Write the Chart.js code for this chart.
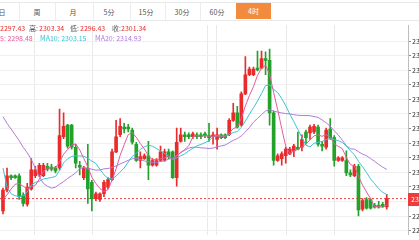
<!DOCTYPE html>
<html><head><meta charset="utf-8">
<script src="https://cdn.jsdelivr.net/npm/chart.js@4/dist/chart.umd.min.js"></script>
<style>
html,body{margin:0;padding:0;width:419px;height:240px;overflow:hidden;background:#fff;font-family:"Noto Sans CJK SC","Noto Sans",sans-serif;}
.hline{position:absolute;left:0;width:419px;height:1px;background:#e8e8e8;}
.sep{position:absolute;top:2px;width:1px;height:18px;background:#ececec;}
.tab{position:absolute;top:7px;font-size:7px;line-height:10px;color:#555;transform:translateX(-50%);white-space:nowrap;}
#active{position:absolute;left:236px;top:3px;width:35px;height:16px;background:#f38b3e;color:#fff;font-size:7px;line-height:16px;text-align:center;}
.lg{position:absolute;font-size:7px;line-height:9px;white-space:nowrap;}
#wrap{position:absolute;left:0;top:20px;width:460px;height:220px;}
</style></head>
<body>
<div class="hline" style="top:2px"></div>
<div class="hline" style="top:20px"></div>
<div class="sep" style="left:19px"></div>
<div class="sep" style="left:55px"></div>
<div class="sep" style="left:93px"></div>
<div class="sep" style="left:130px"></div>
<div class="sep" style="left:165px"></div>
<div class="sep" style="left:200px"></div>
<div id="tabbar"></div>
<div id="active">4时</div>
<div id="wrap"><canvas id="c" width="460" height="220"></canvas></div>
<div id="legend"></div>
<script>
// ---- data ----
const tabs = ['日','周','月','5分','15分','30分','60分'];
const opens = [2295.6,2305.3,2312.0,2312.0,2312.0,2302.7,2298.7,2305.8,2312.0,2312.4,
 2312.0,2316.4,2316.0,2315.6,2315.6,2330.2,2335.6,2335.6,2325.3,2316.9,
 2311.1,2315.6,2308.9,2301.3,2300.9,2303.6,2306.7,2310.2,2323.1,2331.1,
 2334.7,2334.7,2333.3,2326.7,2319.1,2320.0,2321.3,2316.9,2316.9,2319.1,
 2319.1,2323.1,2323.1,2311.1,2328.0,2331.1,2331.1,2330.2,2331.1,2331.1,
 2331.6,2330.7,2330.2,2328.9,2331.1,2331.1,2331.1,2337.8,2341.3,2335.6,
 2350.2,2359.1,2359.1,2362.2,2362.2,2366.7,2365.8,2341.3,2319.1,2320.0,
 2321.3,2322.2,2323.6,2325.3,2325.3,2332.4,2332.0,2332.4,2334.7,2326.7,
 2325.3,2333.8,2329.8,2319.1,2319.1,2319.1,2313.3,2312.0,2316.4,2296.4,
 2300.9,2300.9,2298.2,2298.2,2298.7,2297.43];
const highs = [2306.2,2315.6,2312.4,2312.4,2312.9,2304.0,2308.4,2320.0,2316.4,2317.8,
 2317.8,2317.8,2317.3,2316.4,2343.1,2341.3,2336.0,2336.0,2326.7,2318.7,
 2316.4,2326.7,2309.8,2304.4,2304.0,2309.8,2311.1,2324.4,2337.8,2338.7,
 2336.4,2336.0,2334.2,2327.6,2323.1,2322.2,2328.0,2320.0,2320.0,2325.8,
 2324.4,2324.4,2323.6,2334.2,2334.2,2332.4,2332.0,2332.4,2332.0,2332.0,
 2332.4,2336.4,2332.4,2334.2,2331.6,2331.6,2338.7,2345.8,2344.4,2351.1,
 2367.6,2362.7,2362.7,2370.2,2370.2,2369.8,2371.1,2342.2,2322.2,2323.1,
 2325.3,2325.3,2326.7,2332.4,2331.1,2333.3,2335.6,2336.0,2335.6,2328.0,
 2334.2,2338.7,2330.7,2320.9,2320.9,2323.6,2314.7,2317.3,2317.3,2301.3,
 2301.8,2301.3,2299.1,2300.0,2299.6,2303.34];
const lows = [2294.2,2304.4,2310.2,2310.7,2300.9,2297.8,2297.8,2305.3,2311.1,2311.6,
 2311.6,2314.2,2314.2,2313.3,2314.7,2329.3,2324.9,2324.4,2315.6,2312.4,
 2310.2,2299.1,2295.6,2300.4,2300.0,2302.2,2305.8,2309.8,2322.7,2330.2,
 2332.0,2332.4,2326.7,2318.7,2315.6,2319.6,2310.2,2316.4,2316.4,2318.7,
 2318.7,2320.0,2310.7,2307.1,2327.6,2328.0,2329.3,2329.3,2329.3,2329.3,
 2329.8,2328.0,2326.7,2324.4,2329.3,2329.3,2330.7,2337.3,2334.2,2335.1,
 2349.8,2358.7,2358.7,2360.9,2361.8,2359.1,2335.6,2316.9,2318.7,2316.9,
 2317.8,2321.8,2320.9,2324.0,2323.6,2326.7,2328.9,2331.6,2325.8,2323.6,
 2324.4,2328.9,2316.4,2318.7,2318.7,2312.0,2311.6,2311.6,2293.3,2295.6,
 2296.4,2296.4,2296.9,2296.9,2297.3,2296.43];
const closes = [2305.3,2312.0,2311.1,2311.1,2302.2,2299.1,2306.7,2314.7,2314.7,2316.9,
 2316.9,2315.1,2315.1,2314.2,2330.7,2335.1,2325.8,2325.3,2317.8,2316.0,
 2315.6,2305.8,2301.3,2303.6,2303.6,2308.9,2310.2,2323.1,2330.2,2335.1,
 2333.8,2333.8,2327.6,2319.1,2320.9,2321.3,2316.9,2319.1,2319.1,2323.1,
 2323.1,2320.9,2311.1,2327.6,2331.1,2330.2,2330.2,2331.6,2330.2,2330.2,
 2330.7,2329.8,2331.1,2331.1,2329.8,2329.8,2337.8,2341.3,2334.7,2350.2,
 2359.1,2361.8,2361.8,2361.3,2366.7,2365.8,2341.3,2319.1,2321.3,2322.2,
 2324.4,2324.4,2325.8,2324.4,2328.9,2329.8,2334.7,2335.1,2326.7,2325.8,
 2333.3,2329.8,2319.1,2320.4,2320.4,2313.3,2312.4,2316.4,2296.0,2300.4,
 2296.9,2296.9,2297.3,2297.3,2297.8,2301.34];
const ma5 = [2300.9,2303.1,2305.8,2308.0,2308.4,2307.1,2306.0,2306.8,2307.5,2310.4,
 2314.0,2315.6,2315.7,2315.6,2318.4,2322.0,2324.2,2326.2,2326.9,2324.0,
 2320.1,2316.1,2311.3,2308.4,2306.0,2304.6,2305.5,2309.9,2315.2,2321.5,
 2326.5,2331.2,2332.1,2329.9,2327.0,2324.5,2321.2,2319.5,2319.5,2319.9,
 2320.3,2321.1,2319.5,2321.2,2322.8,2324.2,2326.0,2330.1,2330.7,2330.5,
 2330.6,2330.5,2330.4,2330.6,2330.5,2330.3,2331.9,2334.0,2334.7,2338.8,
 2344.6,2349.4,2353.5,2358.8,2362.1,2363.5,2359.4,2350.8,2342.8,2334.0,
 2325.7,2322.3,2323.6,2324.3,2325.6,2326.7,2328.7,2330.6,2331.0,2330.4,
 2331.1,2330.1,2326.9,2325.7,2324.6,2320.6,2317.2,2316.6,2311.7,2307.7,
 2304.4,2301.3,2297.5,2297.8,2297.2,2298.48];
const ma10 = [2315.6,2306.7,2303.6,2302.7,2302.2,2302.7,2304.4,2307.6,2308.9,2309.4,
 2310.5,2310.8,2311.2,2311.6,2314.4,2318.0,2319.9,2321.0,2321.3,2321.2,
 2321.1,2320.1,2318.8,2317.7,2315.0,2312.4,2310.8,2310.6,2311.8,2313.7,
 2315.6,2318.4,2321.0,2322.5,2324.3,2325.5,2326.2,2325.8,2324.7,2323.5,
 2322.4,2321.1,2319.5,2320.3,2321.3,2322.2,2323.6,2324.8,2325.9,2326.6,
 2327.4,2328.3,2330.3,2330.6,2330.5,2330.4,2331.2,2332.2,2332.6,2334.6,
 2337.5,2340.7,2343.7,2346.8,2350.4,2354.0,2354.4,2352.2,2350.8,2348.0,
 2344.6,2340.8,2337.2,2333.6,2329.8,2326.2,2325.5,2327.1,2327.6,2328.0,
 2328.9,2329.4,2328.8,2328.4,2327.5,2325.9,2323.6,2321.8,2318.7,2316.2,
 2313.5,2310.5,2308.3,2306.0,2304.3,2303.15];
const ma20 = [2339.6,2336.4,2333.8,2331.1,2328.4,2325.3,2322.7,2319.6,2315.6,2311.6,
 2308.4,2307.1,2306.2,2306.7,2308.0,2309.3,2310.7,2312.0,2313.3,2315.3,
 2315.8,2315.5,2315.0,2314.6,2314.7,2315.2,2315.4,2315.8,2316.6,2317.5,
 2318.3,2319.2,2319.9,2320.1,2319.6,2318.9,2318.5,2318.2,2318.2,2318.6,
 2319.0,2319.7,2320.2,2321.4,2322.8,2323.9,2324.9,2325.3,2325.3,2325.0,
 2324.9,2324.7,2324.9,2325.5,2325.9,2326.3,2327.4,2328.5,2329.3,2330.6,
 2332.4,2334.5,2337.0,2338.7,2340.5,2342.2,2342.8,2342.2,2341.7,2341.3,
 2341.0,2340.8,2340.5,2340.2,2340.1,2340.1,2340.0,2339.6,2339.2,2338.0,
 2336.7,2335.1,2333.0,2331.0,2328.6,2326.0,2324.6,2324.4,2323.2,2322.1,
 2321.3,2320.0,2318.7,2317.3,2316.0,2314.93];
const yTicks = [2286.4,2293.2,2300.0,2306.8,2313.6,2320.4,2327.2,2334.0,2340.8,2347.6,2354.4,2361.2,2368.0,2374.8];

// ---- view settings ----
const periods = opens.map((_, i) => i);
const N = closes.length;
const xMin = -0.74, xMax = 100.26, yMin = 2284.44, yMax = 2382.22;
const gridAt = [7.92, 22.28, 50.74, 52.97, 70.3, 82.18];
const RED = '#ea2b2b', GREEN = '#23a12a';
const C5 = '#e35b9f', C10 = '#3cc3d3', C20 = '#b17bd8';
const FONT = '"Noto Sans CJK SC","Noto Sans",sans-serif';

// tabs (text)
const tabCenters = [2, 37, 73, 109, 146, 182, 217];
document.getElementById('tabbar').innerHTML = tabs.map((t, i) =>
  `<div class="tab" style="left:${tabCenters[i]}px">${t}</div>`).join('');

// legend text
const f = v => v.toFixed(2);
const L = N - 1;
document.getElementById('legend').innerHTML =
  `<div class="lg" style="top:24px;left:0;color:${RED}"><span style="position:absolute;right:100%;color:#555">开:&nbsp;</span>${f(opens[L])}</div>` +
  `<div class="lg" style="top:24px;left:29px;color:#555">高:</div>` +
  `<div class="lg" style="top:24px;left:39px;color:${RED}">${f(highs[L])}</div>` +
  `<div class="lg" style="top:24px;left:70px;color:#555">低:</div>` +
  `<div class="lg" style="top:24px;left:80px;color:${RED}">${f(lows[L])}</div>` +
  `<div class="lg" style="top:24px;left:112px;color:#555">收:</div>` +
  `<div class="lg" style="top:24px;left:121px;color:${RED}">${f(closes[L])}</div>` +
  `<div class="lg" style="top:34px;left:0;color:${C5}"><span style="position:absolute;right:100%">MA</span>5: ${f(ma5[L])}</div>` +
  `<div class="lg" style="top:34px;left:40px;color:${C10}">MA10: ${f(ma10[L])}</div>` +
  `<div class="lg" style="top:34px;left:95px;color:${C20}">MA20: ${f(ma20[L])}</div>`;

const colors = periods.map(i => closes[i] >= opens[i] ? RED : GREEN);

const priceTag = {
  id: 'priceTag',
  afterDraw(chart) {
    const { ctx, scales: { y }, chartArea } = chart;
    const py = y.getPixelForValue(closes[L]);
    ctx.save();
    ctx.fillStyle = '#ef3b3b';
    ctx.fillRect(chartArea.right, Math.round(py) - 6, 60, 13);
    ctx.fillStyle = '#fff';
    ctx.font = '7px ' + FONT;
    ctx.textBaseline = 'middle';
    ctx.fillText(f(closes[L]), chartArea.right + 3, py + 0.5);
    ctx.restore();
  }
};

const line = (arr, col) => ({
  type: 'line', data: periods.map(i => ({ x: i, y: arr[i] })), borderColor: col,
  borderWidth: 1, pointRadius: 0, tension: 0, order: 0
});

new Chart(document.getElementById('c'), {
  type: 'bar',
  data: {
    datasets: [
      line(ma5, C5), line(ma10, C10), line(ma20, C20),
      { type: 'bar', data: periods.map(i => ({ x: i, y: [lows[i], highs[i]] })), backgroundColor: colors,
        barThickness: 1, grouped: false, order: 2 },
      { type: 'bar', data: periods.map(i => ({ x: i, y: [opens[i], closes[i]] })), backgroundColor: colors,
        barThickness: 3, minBarLength: 1, grouped: false, order: 1 },
      { type: 'line', data: [{ x: xMin, y: closes[L] }, { x: xMax, y: closes[L] }], borderColor: '#f04545',
        borderDash: [2, 2], borderWidth: 1, pointRadius: 0, order: 3 }
    ]
  },
  options: {
    responsive: false, animation: false, devicePixelRatio: 1,
    layout: { padding: 0, autoPadding: false },
    plugins: { legend: { display: false }, tooltip: { enabled: false } },
    scales: {
      x: {
        type: 'linear', min: xMin, max: xMax, offset: false,
        afterBuildTicks(s) { s.ticks = gridAt.map(v => ({ value: v })); },
        afterFit(s) { s.height = 0; },
        ticks: { display: false },
        grid: { color: '#e9e9e9', drawTicks: false, offset: false },
        border: { display: false }
      },
      y: {
        position: 'right', min: yMin, max: yMax,
        afterBuildTicks(s) { s.ticks = yTicks.map(v => ({ value: v })); },
        afterFit(s) { s.width = 52; },
        ticks: { color: '#333', font: { size: 7, family: FONT }, padding: 1, callback: v => v.toFixed(2) },
        grid: { color: '#efefef', tickLength: 3, tickColor: '#888' },
        border: { display: true, color: '#bdbdbd' }
      }
    }
  },
  plugins: [priceTag]
});
</script>
</body></html>
